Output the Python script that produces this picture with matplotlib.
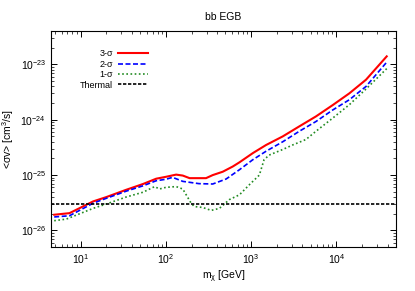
import numpy as np
import matplotlib.pyplot as plt

plt.rcParams['font.family'] = ['Liberation Sans', 'DejaVu Sans']
plt.rcParams['mathtext.default'] = 'regular'
plt.rcParams['font.size'] = 7.5

# 3-sigma limit
m3 = [4.9, 7.4, 14, 20, 34, 54, 77, 100, 132, 158, 190, 296, 355, 465, 610, 730,
      1050, 1500, 2350, 3680, 5770, 9060, 14200, 22300, 39000]
s3 = [1.92e-26, 2.05e-26, 3.34e-26, 4.0e-26, 5.4e-26, 6.9e-26, 8.6e-26, 9.3e-26, 1.02e-25,
      9.8e-26, 8.8e-26, 8.8e-26, 1.0e-25, 1.15e-25, 1.43e-25, 1.7e-25, 2.5e-25, 3.5e-25,
      5.0e-25, 7.6e-25, 1.15e-24, 1.84e-24, 3.0e-24, 5.3e-24, 1.4e-23]

# 2-sigma limit
m2 = [4.9, 7.4, 14, 20, 34, 54, 77, 100, 120, 158, 245, 355, 510, 730, 1050, 1500,
      2350, 3680, 5770, 9060, 14200, 22300, 39000]
s2 = [1.75e-26, 1.84e-26, 3.1e-26, 3.8e-26, 5.1e-26, 6.4e-26, 7.9e-26, 8.4e-26, 9.1e-26,
      7.7e-26, 7.0e-26, 6.9e-26, 8.5e-26, 1.25e-25, 1.9e-25, 2.7e-25, 4.0e-25, 6.2e-25,
      9.3e-25, 1.5e-24, 2.3e-24, 4.0e-24, 1.1e-23]

# 1-sigma limit
m1 = [4.9, 6.8, 14, 20, 34, 54, 74, 84, 100, 132, 158, 198, 216, 270, 340, 425, 555,
      730, 955, 1250, 1420, 1630, 2350, 3070, 4400, 5770, 9060, 14200, 22300, 39000]
s1 = [1.5e-26, 1.6e-26, 2.5e-26, 3.0e-26, 4.0e-26, 4.9e-26, 6.2e-26, 5.6e-26, 6.0e-26,
      6.2e-26, 5.6e-26, 3.1e-26, 2.7e-26, 2.6e-26, 2.3e-26, 2.5e-26, 3.6e-26, 4.4e-26,
      6.7e-26, 1.0e-25, 1.9e-25, 2.3e-25, 2.9e-25, 3.5e-25, 4.4e-25, 6.2e-25, 1.07e-24,
      1.87e-24, 3.6e-24, 8.4e-24]

thermal = 3e-26

xticks = [1e1, 1e2, 1e3, 1e4]
yticks = [1e-26, 1e-25, 1e-24, 1e-23]

fig = plt.figure(figsize=(4.15, 2.91), dpi=100)
ax = fig.add_axes([0.123, 0.151, 0.831, 0.742])

ax.plot(m3, s3, color='#ff0000', lw=1.5, label='3-σ')
ax.plot(m2, s2, color='#0000ff', lw=1.2, ls=(0, (3, 1.5)), label='2-σ')
ax.plot(m1, s1, color='#228b22', lw=1.2, ls=(0, (1, 1.5)), label='1-σ')
ax.axhline(thermal, color='black', lw=1.2, ls=(0, (2, 1)), label='Thermal')

ax.set_xscale('log')
ax.set_yscale('log')
ax.set_xticks(xticks)
ax.set_yticks(yticks)
ax.set_xlim(4.5, 50000)
ax.set_ylim(5e-27, 4e-23)

ax.set_title('bb EGB', fontsize=7.5, pad=8)
ax.set_xlabel('m$_χ$ [GeV]', labelpad=2)
ax.set_ylabel('<σv> [cm$^3$/s]', labelpad=3)

ax.tick_params(which='both', direction='in', top=True, right=True)
ax.tick_params(which='major', length=4, width=0.7)
ax.tick_params(which='minor', length=2.5, width=0.5)
for sp in ax.spines.values():
    sp.set_linewidth(0.8)

ax.legend(loc='upper right', bbox_to_anchor=(0.357, 0.830), bbox_transform=fig.transFigure,
          markerfirst=False, frameon=False, fontsize=6.5, handlelength=3.3,
          handletextpad=0.6, labelspacing=0.15, borderpad=0, borderaxespad=0)

fig.savefig('out.png', dpi=100)
